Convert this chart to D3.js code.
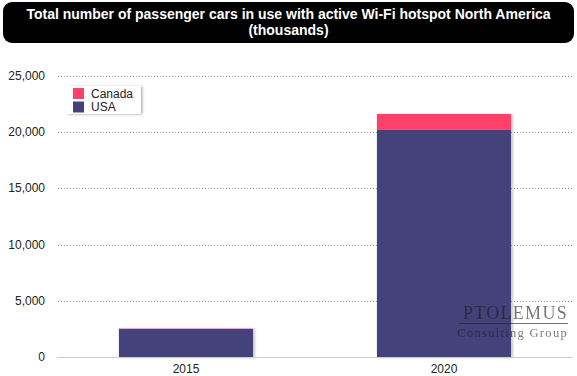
<!DOCTYPE html>
<html>
<head>
<meta charset="utf-8">
<script src="https://cdn.jsdelivr.net/npm/d3@7"></script>
<style>
  body { margin: 0; background: #fff; }
  svg { display: block; font-family: "Liberation Sans", Arial, sans-serif; }
</style>
</head>
<body>
<svg id="chart"></svg>
<script>
const years = ["2015", "2020"]
const usa = [2490, 20200]
const canada = [40, 1420]
const seriesNames = ["USA", "Canada"]
const seriesColors = ["#43427a", "#ff4069"]
const yTicks = [0, 5000, 10000, 15000, 20000, 25000]

const width = 577, height = 376
const margin = {top: 76, right: 4, bottom: 19, left: 57}

const svg = d3.select("#chart")
    .attr("width", width)
    .attr("height", height)

// shadows
const defs = svg.append("defs")
const shadow = defs.append("filter").attr("id", "shadow")
    .attr("x", "-10%").attr("y", "-10%").attr("width", "130%").attr("height", "130%")
shadow.append("feDropShadow")
    .attr("dx", 1.5).attr("dy", 0.5).attr("stdDeviation", 1)
    .attr("flood-color", "#000").attr("flood-opacity", 0.3)

// title box
svg.append("rect")
    .attr("x", 3).attr("y", 2)
    .attr("width", width - 6).attr("height", 41)
    .attr("rx", 9)
    .attr("fill", "#000")
const title = svg.append("text")
    .attr("text-anchor", "middle")
    .attr("fill", "#fff")
    .style("font-size", "14px")
    .style("font-weight", "bold")
title.append("tspan").attr("x", width / 2).attr("y", 19)
    .text("Total number of passenger cars in use with active Wi-Fi hotspot North America")
title.append("tspan").attr("x", width / 2).attr("y", 35)
    .text("(thousands)")

const x = d3.scaleBand()
    .domain(years)
    .range([margin.left, width - margin.right])
    .paddingInner(0.48)
    .paddingOuter(0.24)

const y = d3.scaleLinear()
    .domain([0, 25000])
    .range([height - margin.bottom, margin.top])

// grid
svg.append("g")
    .selectAll("line")
    .data(yTicks.filter(d => d > 0))
    .join("line")
    .attr("x1", margin.left + 1)
    .attr("x2", width - margin.right)
    .attr("y1", d => Math.round(y(d)) + 0.5)
    .attr("y2", d => Math.round(y(d)) + 0.5)
    .attr("stroke", "#999")
    .attr("stroke-dasharray", "1,2")

// y labels
svg.append("g")
    .selectAll("text")
    .data(yTicks)
    .join("text")
    .attr("x", 45)
    .attr("y", d => y(d) + 4)
    .attr("text-anchor", "end")
    .attr("fill", "#222")
    .style("font-size", "12px")
    .text(d => d3.format(",")(d))

// stacked bars
const rows = years.map((yr, i) => ({year: yr, USA: usa[i], Canada: canada[i]}))
const stacked = d3.stack().keys(seriesNames)(rows)
const color = d3.scaleOrdinal().domain(seriesNames).range(seriesColors)

// bar shadows
svg.append("g")
    .selectAll("rect")
    .data(rows)
    .join("rect")
    .attr("x", d => x(d.year))
    .attr("y", d => y(d.USA + d.Canada))
    .attr("width", x.bandwidth())
    .attr("height", d => y(0) - y(d.USA + d.Canada))
    .attr("fill", "#fff")
    .attr("filter", "url(#shadow)")

svg.append("g")
    .selectAll("g")
    .data(stacked)
    .join("g")
    .attr("fill", d => color(d.key))
    .selectAll("rect")
    .data(d => d)
    .join("rect")
    .attr("x", d => x(d.data.year))
    .attr("y", d => y(d[1]))
    .attr("width", x.bandwidth())
    .attr("height", d => y(d[0]) - y(d[1]))

// baseline
svg.append("line")
    .attr("x1", margin.left).attr("x2", width - margin.right)
    .attr("y1", y(0) + 0.5).attr("y2", y(0) + 0.5)
    .attr("stroke", "#ccc")

// x labels
svg.append("g")
    .selectAll("text")
    .data(years)
    .join("text")
    .attr("x", d => x(d) + x.bandwidth() / 2)
    .attr("y", height - 3)
    .attr("text-anchor", "middle")
    .attr("fill", "#222")
    .style("font-size", "12px")
    .text(d => d)

// legend
const legend = svg.append("g").attr("transform", "translate(66,86)")
legend.append("rect")
    .attr("width", 75).attr("height", 28)
    .attr("fill", "#fff")
    .attr("filter", "url(#shadow)")
const legendItems = ["Canada", "USA"]
legendItems.forEach((name, i) => {
    legend.append("rect")
        .attr("x", 7).attr("y", 2 + i * 13.5)
        .attr("width", 11).attr("height", 11)
        .attr("fill", color(name))
    legend.append("text")
        .attr("x", 25).attr("y", 11.5 + i * 13.5)
        .attr("fill", "#222")
        .style("font-size", "12px")
        .text(name)
})

// watermark
const wm = svg.append("g").attr("opacity", 0.6)
wm.append("text")
    .attr("x", 568).attr("y", 319)
    .attr("text-anchor", "end")
    .attr("fill", "#1a1a1a")
    .style("font-family", "'Liberation Serif', 'DejaVu Serif', serif")
    .style("font-size", "18px")
    .style("letter-spacing", "1.3px")
    .text("PTOLEMUS")
wm.append("line")
    .attr("x1", 459).attr("x2", 568)
    .attr("y1", 323.5).attr("y2", 323.5)
    .attr("stroke", "#1a1a1a")
wm.append("text")
    .attr("x", 568).attr("y", 337)
    .attr("text-anchor", "end")
    .attr("fill", "#1a1a1a")
    .style("font-family", "'Liberation Serif', 'DejaVu Serif', serif")
    .style("font-size", "12.5px")
    .style("letter-spacing", "1.3px")
    .text("Consulting Group")
</script>
</body>
</html>
